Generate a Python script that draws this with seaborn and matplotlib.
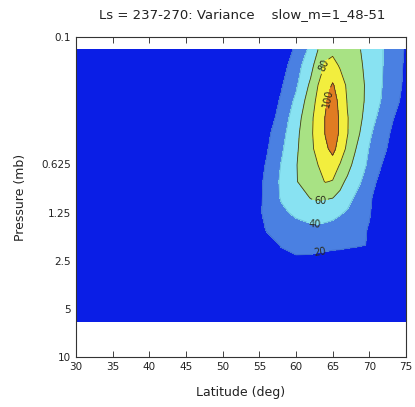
import numpy as np
import matplotlib
matplotlib.use("Agg")
import matplotlib.pyplot as plt
import seaborn as sns

sns.set_style("ticks")
plt.rcParams['font.family'] = ['DejaVu Sans']

# Latitude grid (deg) and pressure levels (mb)
lat = [30, 40, 50, 54, 56, 58, 60, 62, 63, 64, 65, 66, 67, 68, 70, 72, 74, 75]
pressure = [0.12, 0.15, 0.2, 0.25, 0.32, 0.4, 0.5, 0.63, 0.8, 1.0, 1.25, 1.6, 2.0, 2.5, 3.2, 4.0, 6.0]

# Variance, one row per pressure level
variance = [
    [0, 0, 0, 1, 2, 5, 24, 45, 60, 72, 76, 72, 68, 64, 54, 39, 25, 18],
    [0, 0, 0, 1, 3, 11, 31, 54, 69, 83, 86, 78, 72, 67, 54, 39, 24, 17],
    [0, 0, 1, 2, 5, 18, 37, 64, 80, 91, 102, 90, 77, 70, 55, 38, 23, 16],
    [0, 0, 1, 2, 4, 23, 44, 71, 85, 97, 110, 94, 79, 71, 54, 36, 21, 13],
    [0, 0, 1, 3, 9, 28, 51, 76, 88, 101, 116, 96, 81, 72, 49, 30, 15, 8],
    [0, 0, 1, 4, 15, 33, 55, 77, 88, 101, 115, 96, 81, 69, 43, 26, 11, 5],
    [0, 0, 2, 5, 18, 37, 57, 76, 86, 96, 106, 91, 76, 62, 39, 23, 7, 3],
    [0, 0, 2, 4, 22, 41, 59, 73, 80, 87, 90, 79, 67, 55, 36, 17, 6, 3],
    [0, 0, 2, 6, 25, 43, 59, 69, 74, 81, 79, 66, 56, 48, 30, 9, 4, 2],
    [0, 0, 2, 8, 25, 42, 52, 61, 62, 62, 61, 55, 47, 39, 23, 7, 3, 1],
    [0, 0, 3, 12, 24, 36, 44, 51, 53, 49, 46, 42, 38, 32, 21, 10, 4, 2],
    [0, 0, 3, 8, 21, 27, 31, 33, 33, 33, 32, 30, 28, 25, 19, 9, 3, 1],
    [0, 0, 2, 6, 13, 21, 23, 24, 24, 24, 23, 23, 22, 21.5, 19.5, 8, 3, 1],
    [0, 0, 2, 4, 9, 14, 18, 17, 15, 14, 13, 12, 11, 10, 8, 5, 2, 1],
    [0, 0, 1, 3, 6, 9, 11, 11, 10, 9, 8, 7, 6, 5, 4, 3, 1, 0],
    [0, 0, 1, 2, 4, 6, 7, 7, 6, 5, 5, 4, 4, 3, 2, 1, 1, 0],
    [0, 0, 0, 1, 2, 3, 4, 4, 3, 3, 3, 2, 2, 2, 1, 1, 0, 0],
]

fill_levels = [-1, 20, 40, 60, 80, 100, 130]
line_levels = [20, 40, 60, 80, 100]
fill_colors = ["#0a1ee6", "#4a80e2", "#88e2f2", "#a8e284", "#f2ee3e", "#e07c22"]
line_colors = ["#3f6fd0", "#6cc0d8", "#3c3c22", "#3c3c22", "#3c3c22"]
# where each contour label sits (lat, pressure)
label_spots = [(63.3, 2.2), (62.6, 1.45), (63.3, 1.07), (63.7, 0.15), (64.3, 0.24)]

pressure_ticks = [0.1, 0.625, 1.25, 2.5, 5, 10]
pressure_ticklabels = ["0.1", "0.625", "1.25", "2.5", "5", "10"]
lat_ticks = [30, 35, 40, 45, 50, 55, 60, 65, 70, 75]

W, H = 415, 407
fig = plt.figure(figsize=(W / 100, H / 100), dpi=100)
ax = fig.add_axes([76 / W, 1 - 357 / H, 330 / W, 320 / H])

Z = np.array(variance, dtype=float)
ax.contourf(lat, pressure, Z, levels=fill_levels, colors=fill_colors)
cs = ax.contour(lat, pressure, Z, levels=line_levels, colors=line_colors,
                linewidths=0.6)

ax.set_yscale("log")
ax.set_ylim(10, 0.1)
ax.set_xlim(30, 75)

labels = ax.clabel(cs, fmt="%d", fontsize=7, inline=True, inline_spacing=2,
                   manual=label_spots)
for t in labels:
    t.set_color("#2a2a1a")

ax.set_yticks(pressure_ticks)
ax.set_yticklabels(pressure_ticklabels)
ax.minorticks_off()
ax.set_xticks(lat_ticks)
ax.set_xticklabels([str(t) for t in lat_ticks])

ax.tick_params(axis="both", direction="in", labelsize=7.5, colors="#222222",
               length=4, width=0.6, top=True, right=True)
ax.tick_params(axis="y", length=0)
for s in ax.spines.values():
    s.set_linewidth(0.8)
    s.set_color("#333333")

ax.set_xlabel("Latitude (deg)", fontsize=9, labelpad=10, color="#222222")
ax.set_ylabel("Pressure (mb)", fontsize=9, labelpad=10, color="#222222")
fig.text(242 / W, 1 - 15 / H, "Ls = 237-270: Variance    slow_m=1_48-51",
         ha="center", va="center", fontsize=9.5, color="#222222")

fig.savefig("out.png", dpi=100)
